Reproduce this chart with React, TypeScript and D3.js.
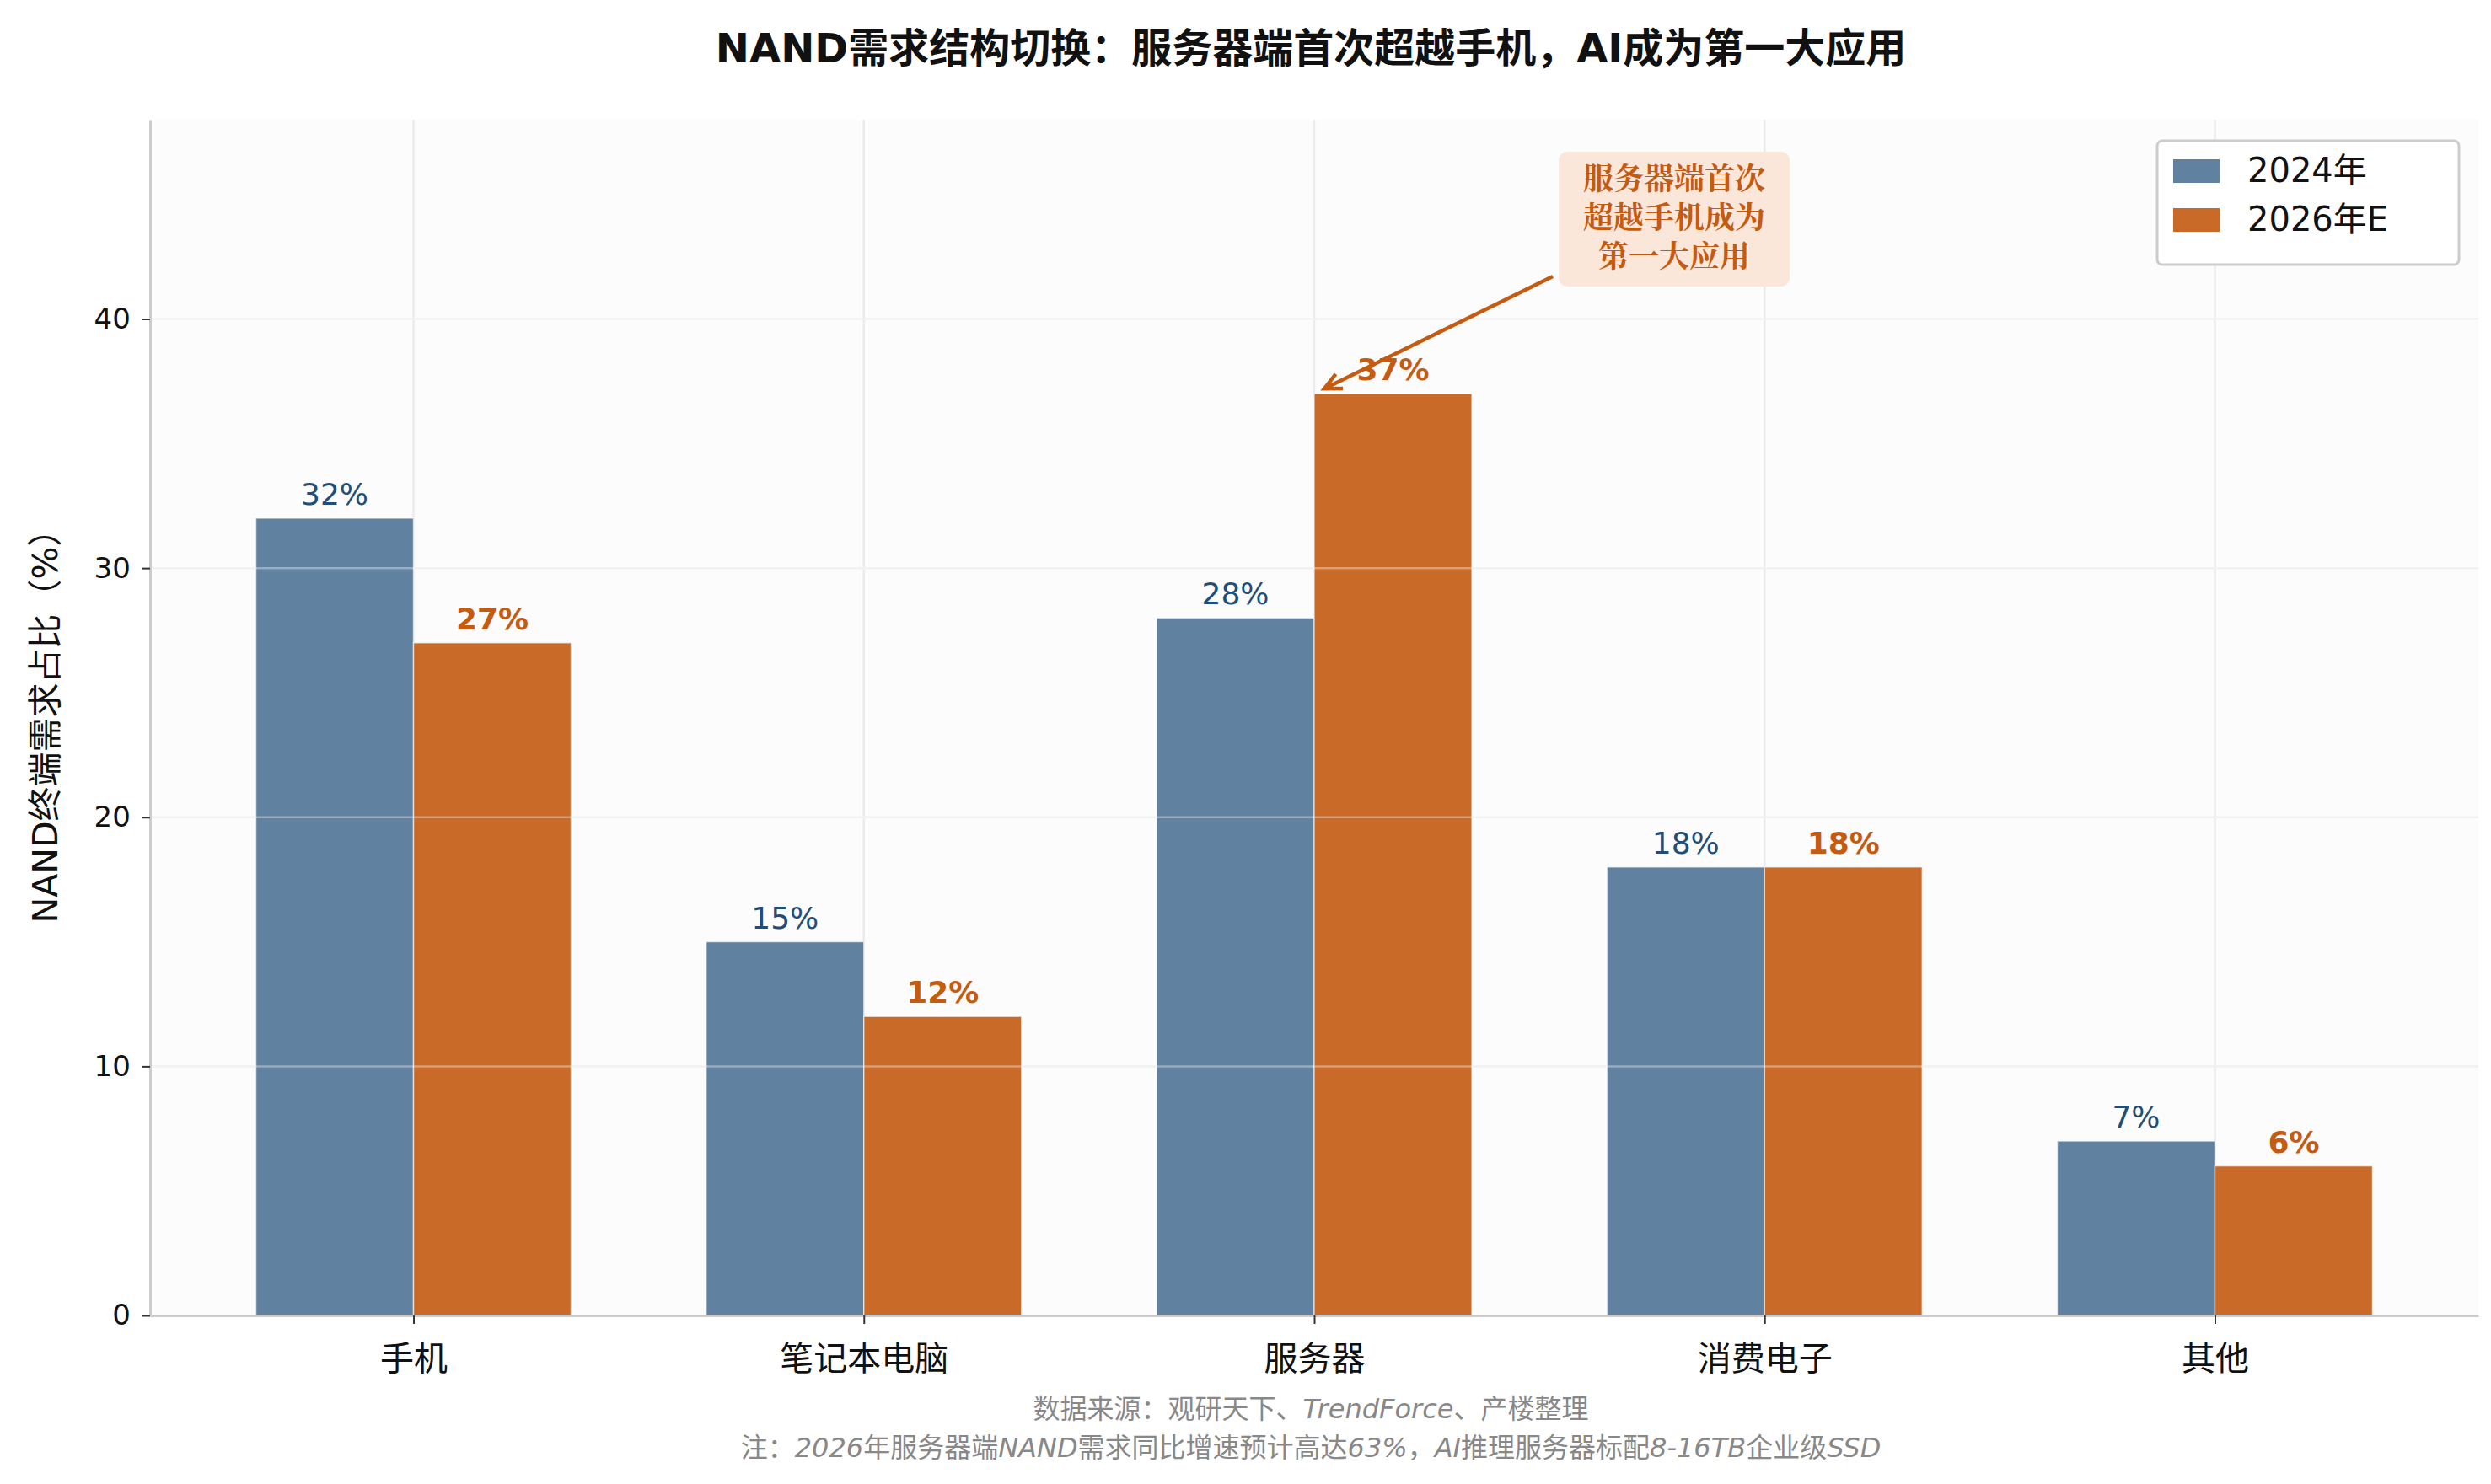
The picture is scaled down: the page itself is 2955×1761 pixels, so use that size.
import { useEffect, useRef } from "react";
import * as d3 from "d3";

const categories = ["手机", "笔记本电脑", "服务器", "消费电子", "其他"];
const values2024 = [32, 15, 28, 18, 7];
const values2026 = [27, 12, 37, 18, 6];
const seriesNames = ["2024年", "2026年E"];
const yTicks = [0, 10, 20, 30, 40];

const W = 2955;
const H = 1761;
const FONT = "'DejaVu Sans', 'Noto Sans CJK SC', sans-serif";

export default function App() {
  const svgRef = useRef<SVGSVGElement | null>(null);

  useEffect(() => {
    document.body.style.margin = "0";
    if (!svgRef.current) return;
    const root = d3.select(svgRef.current);
    root.selectAll("*").remove();

    const m = { left: 178, right: 15, top: 142, bottom: 200 };
    const x = d3.scaleLinear().domain([-0.585, 4.585]).range([m.left, W - m.right]);
    const y = d3.scaleLinear().domain([0, 48]).range([H - m.bottom, m.top]);
    const bw = x(0.35) - x(0);
    const blue = "#6181a0";
    const orange = "#c96a28";

    root.append("rect").attr("width", W).attr("height", H).attr("fill", "#fff");
    root.append("rect")
      .attr("x", m.left).attr("y", m.top)
      .attr("width", W - m.left - m.right).attr("height", H - m.top - m.bottom)
      .attr("fill", "#fcfcfc");

    // grid
    const g = root.append("g");
    yTicks.slice(1).forEach((t) => {
      g.append("line").attr("x1", m.left).attr("x2", W - m.right)
        .attr("y1", y(t)).attr("y2", y(t)).attr("stroke", "#ebebeb").attr("stroke-width", 2.5);
    });
    categories.forEach((_, i) => {
      g.append("line").attr("x1", x(i)).attr("x2", x(i))
        .attr("y1", m.top).attr("y2", y(0)).attr("stroke", "#ebebeb").attr("stroke-width", 2.5);
    });

    // bars
    const series = [values2024, values2026];
    series.forEach((vals, s) => {
      vals.forEach((v, i) => {
        const cx = i + (s === 0 ? -0.175 : 0.175);
        root.append("rect")
          .attr("x", x(cx) - bw / 2).attr("y", y(v))
          .attr("width", bw).attr("height", y(0) - y(v))
          .attr("fill", s === 0 ? blue : orange)
          .attr("stroke", "#ffffff").attr("stroke-opacity", 0.6).attr("stroke-width", 1.5);
        root.append("text")
          .attr("x", x(cx)).attr("y", y(v) - 16)
          .attr("text-anchor", "middle")
          .attr("font-family", FONT).attr("font-size", 36)
          .attr("font-weight", s === 0 ? 400 : 700)
          .attr("fill", s === 0 ? "#1f4e79" : "#c55a11")
          .text(`${v}%`);
      });
    });

    yTicks.slice(1).forEach((t) => {
      root.append("line").attr("x1", m.left).attr("x2", W - m.right)
        .attr("y1", y(t)).attr("y2", y(t)).attr("stroke", "#ffffff").attr("stroke-opacity", 0.35).attr("stroke-width", 2.5);
    });

    // axes
    const ax = root.append("g").attr("transform", `translate(0,${y(0)})`)
      .call(d3.axisBottom(x).tickValues(d3.range(categories.length)).tickFormat((d) => categories[+d]).tickSize(10).tickSizeOuter(0));
    ax.select(".domain").attr("stroke", "#cccccc").attr("stroke-width", 3);
    ax.selectAll(".tick line").attr("stroke", "#333").attr("stroke-width", 2);
    ax.selectAll("text").attr("font-family", FONT).attr("font-size", 40).attr("fill", "#111").attr("dy", "1.3em");

    const ay = root.append("g").attr("transform", `translate(${m.left},0)`)
      .call(d3.axisLeft(y).tickValues(yTicks).tickSize(10).tickSizeOuter(0));
    ay.select(".domain").attr("stroke", "#cccccc").attr("stroke-width", 3);
    ay.selectAll(".tick line").attr("stroke", "#333").attr("stroke-width", 2);
    ay.selectAll("text").attr("font-family", FONT).attr("font-size", 34).attr("fill", "#111").attr("dx", "-0.3em");

    // y label
    root.append("text")
      .attr("transform", `translate(68,${(m.top + y(0)) / 2}) rotate(-90)`)
      .attr("text-anchor", "middle")
      .attr("font-family", FONT).attr("font-size", 41).attr("fill", "#111")
      .text("NAND终端需求占比（%）");

    // title
    root.append("text")
      .attr("x", 1555).attr("y", 74).attr("text-anchor", "middle")
      .attr("font-family", FONT).attr("font-size", 48).attr("font-weight", 700).attr("fill", "#111")
      .text("NAND需求结构切换：服务器端首次超越手机，AI成为第一大应用");

    // legend
    const lg = root.append("g").attr("transform", "translate(2559,167)");
    lg.append("rect").attr("width", 358).attr("height", 147).attr("rx", 6)
      .attr("fill", "#fff").attr("stroke", "#cccccc").attr("stroke-width", 3);
    seriesNames.forEach((n, i) => {
      lg.append("rect").attr("x", 19).attr("y", 22 + i * 58).attr("width", 55).attr("height", 28)
        .attr("fill", i === 0 ? blue : orange);
      lg.append("text").attr("x", 107).attr("y", 49 + i * 58)
        .attr("font-family", FONT).attr("font-size", 40).attr("fill", "#111").text(n);
    });

    // annotation
    const ab = root.append("g").attr("transform", "translate(1849,180)");
    ab.append("rect").attr("width", 274).attr("height", 160).attr("rx", 10)
      .attr("fill", "#fbe6da");
    ["服务器端首次", "超越手机成为", "第一大应用"].forEach((t, i) => {
      ab.append("text").attr("x", 137).attr("y", 45 + i * 46).attr("text-anchor", "middle")
        .attr("font-family", "'Noto Serif CJK SC', 'Noto Sans CJK SC', sans-serif").attr("font-size", 36).attr("font-weight", 700)
        .attr("fill", "#c55a11").text(t);
    });
    const x1 = 1842, y1 = 328, x2 = x(2.175) - bw / 2 + 12, y2 = y(37) - 6;
    root.append("line").attr("x1", x1).attr("y1", y1).attr("x2", x2).attr("y2", y2)
      .attr("stroke", "#c55a11").attr("stroke-width", 4.5);
    const ang = Math.atan2(y1 - y2, x1 - x2);
    const hl = 22;
    const p = (a: number) => [x2 + hl * Math.cos(ang + a), y2 + hl * Math.sin(ang + a)];
    root.append("path")
      .attr("d", `M${p(0.45).join(",")} L${x2},${y2} L${p(-0.45).join(",")}`)
      .attr("fill", "none").attr("stroke", "#c55a11").attr("stroke-width", 4.5);

    // footnotes
    const foot = [
      ["数据来源：观研天下、", "TrendForce", "、产楼整理"],
      ["注：", "2026", "年服务器端", "NAND", "需求同比增速预计高达", "63%", "，", "AI", "推理服务器标配", "8-16TB", "企业级", "SSD"],
    ];
    foot.forEach((parts, i) => {
      const t = root.append("text").attr("x", 1555).attr("y", 1683 + i * 46).attr("text-anchor", "middle")
        .attr("font-family", FONT).attr("font-size", 32).attr("fill", "#888");
      parts.forEach((s) => {
        t.append("tspan").attr("font-style", /[A-Za-z0-9]/.test(s) ? "italic" : "normal").text(s);
      });
    });
  }, []);

  return <svg ref={svgRef} width={W} height={H} style={{ display: "block" }} />;
}
